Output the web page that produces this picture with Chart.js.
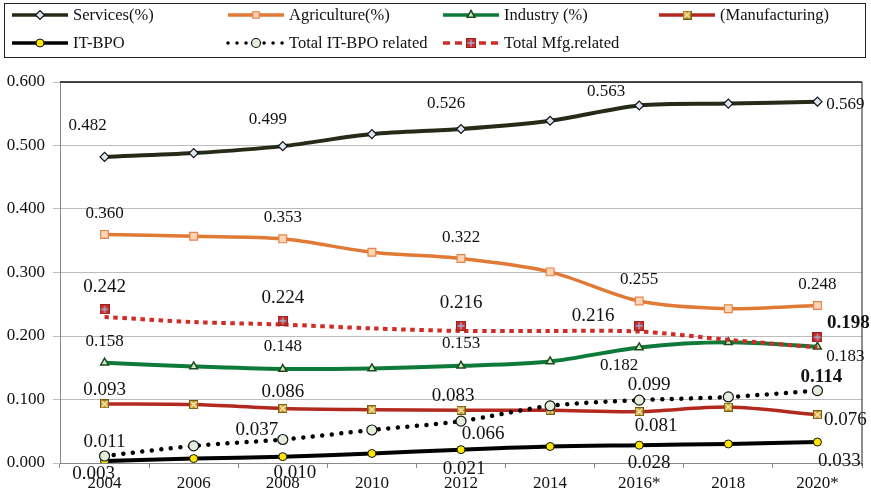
<!DOCTYPE html>
<html>
<head>
<meta charset="utf-8">
<script src="https://cdn.jsdelivr.net/npm/chart.js@4.4.1/dist/chart.umd.min.js"></script>
<style>
  html, body { margin: 0; padding: 0; background: #fff; }
</style>
</head>
<body>
<canvas id="chart" width="871" height="492"></canvas>
<script>
// --- data ---
const years = ['2004', '2006', '2008', '2010', '2012', '2014', '2016*', '2018', '2020*'];
const services       = [0.482, 0.488, 0.499, 0.518, 0.526, 0.539, 0.563, 0.566, 0.569];
const agriculture    = [0.360, 0.357, 0.353, 0.332, 0.322, 0.301, 0.255, 0.243, 0.248];
const industry       = [0.158, 0.152, 0.148, 0.149, 0.153, 0.160, 0.182, 0.190, 0.183];
const manufacturing  = [0.093, 0.092, 0.086, 0.084, 0.083, 0.083, 0.081, 0.088, 0.076];
const itBpo          = [0.003, 0.007, 0.010, 0.015, 0.021, 0.026, 0.028, 0.030, 0.033];
const itBpoRelated   = [0.011, 0.027, 0.037, 0.052, 0.066, 0.090, 0.099, 0.104, 0.114];
const mfgRelated     = [0.242, null, 0.224, null, 0.216, null, 0.216, null, 0.198];
const mfgRelatedLine = [0.230, 0.222, 0.218, 0.212, 0.208, 0.208, 0.207, 0.194, 0.182];
const yTicks = [0, 0.1, 0.2, 0.3, 0.4, 0.5, 0.6];
const labelled = [0, 2, 4, 6, 8];

const SERIF = '"Liberation Serif", "Times New Roman", serif';

// value label placement: [dx, dy] from the point, per labelled year
const labelStyle = {
  services:      { size: 17, at: [[-17, -31], [-15, -27], [-15, -25], [-33, -14], [28, 3]] },
  agriculture:   { size: 17, at: [[0, -21], [0, -21], [0, -21], [0, -22], [0, -21]] },
  industry:      { size: 17, at: [[0, -21], [0, -22], [0, -22], [-20, 18], [28, 10]] },
  manufacturing: { size: 19, at: [[0, -14], [0, -16], [-8, -14], [17, 14], [28, 5]] },
  itBpo:         { size: 19, at: [[-11, 13], [12, 16], [3, 19], [10, 18], [22, 19]] },
  itBpoRelated:  { size: 19, at: [[0, -14], [-26, -9], [22, 13], [10, -15], [4, -14]], bold: [8] },
  mfgRelated:    { size: 19, at: [[0, -22], [0, -23], [0, -23], [-46, -10], [31, -14]], bold: [8] }
};

// small square markers with a cross drawn inside
function boxMarker(size, fill, edge, mark, plus) {
  const c = document.createElement('canvas');
  c.width = c.height = size;
  const g = c.getContext('2d');
  g.fillStyle = fill;
  g.fillRect(0, 0, size, size);
  g.strokeStyle = edge;
  g.lineWidth = 1;
  g.strokeRect(0.5, 0.5, size - 1, size - 1);
  g.strokeStyle = mark;
  g.lineWidth = 1.3;
  g.beginPath();
  if (plus) {
    g.moveTo(size / 2, 1.5); g.lineTo(size / 2, size - 1.5);
    g.moveTo(1.5, size / 2); g.lineTo(size - 1.5, size / 2);
  } else {
    g.moveTo(1.5, 1.5); g.lineTo(size - 1.5, size - 1.5);
    g.moveTo(size - 1.5, 1.5); g.lineTo(1.5, size - 1.5);
  }
  g.stroke();
  return c;
}
const mfgMark = boxMarker(9, '#c9a232', '#7a5a10', '#f7ecb8', false);
const mfgRelMark = boxMarker(10, '#c8302a', '#a02020', '#9fb4e2', true);

const datasets = [
  { key: 'services', label: 'Services(%)', data: services, borderColor: '#262b17', borderWidth: 4,
    pointStyle: 'rectRot', pointRadius: 4.5, pointBackgroundColor: '#dce6f2', pointBorderColor: '#111', pointBorderWidth: 1.2 },
  { key: 'agriculture', label: 'Agriculture(%)', data: agriculture, borderColor: '#e07a35', borderWidth: 3.5,
    pointStyle: 'rect', pointRadius: 5.5, pointBackgroundColor: '#fbd5b6', pointBorderColor: '#e8834a', pointBorderWidth: 1.2 },
  { key: 'industry', label: 'Industry (%)', data: industry, borderColor: '#0e7a3a', borderWidth: 4,
    pointStyle: 'triangle', pointRadius: 4.5, pointBackgroundColor: '#d6e6c4', pointBorderColor: '#1c4a1c', pointBorderWidth: 1.5 },
  { key: 'manufacturing', label: '(Manufacturing)', data: manufacturing, borderColor: '#b2291f', borderWidth: 3.5,
    pointStyle: mfgMark, pointBackgroundColor: '#c9a232', pointBorderColor: '#7a5a10' },
  { key: 'itBpo', label: 'IT-BPO', data: itBpo, borderColor: '#000', borderWidth: 4,
    pointStyle: 'circle', pointRadius: 4, pointBackgroundColor: '#ffe600', pointBorderColor: '#111', pointBorderWidth: 1 },
  { key: 'itBpoRelated', label: 'Total IT-BPO related', data: itBpoRelated, borderColor: '#000', borderWidth: 4.5,
    borderDash: [0.01, 9.5], borderCapStyle: 'round',
    pointStyle: 'circle', pointRadius: 5, pointBackgroundColor: '#e3efda', pointBorderColor: '#111', pointBorderWidth: 1.2 },
  { key: 'mfgRelatedLine', label: 'Total Mfg.related line', data: mfgRelatedLine, borderColor: '#d02c26', borderWidth: 4,
    borderDash: [4.5, 4.5], pointRadius: 0 },
  { key: 'mfgRelated', label: 'Total Mfg.related', data: mfgRelated, showLine: false,
    borderColor: '#d02c26', pointStyle: mfgRelMark, pointBackgroundColor: '#c8302a' }
];
datasets.forEach((d, i) => {
  d.order = datasets.length - i;   // later series sit on top
  d.tension = 0.3;
  d.fill = false;
  d.spanGaps = false;
  d.pointHoverRadius = d.pointRadius;
});

// legend layout: [dataset key, line key, column x, row y]
const legendItems = [
  ['services', 'services', 12, 15],
  ['agriculture', 'agriculture', 228, 15],
  ['industry', 'industry', 443, 15],
  ['manufacturing', 'manufacturing', 659, 15],
  ['itBpo', 'itBpo', 12, 43],
  ['itBpoRelated', 'itBpoRelated', 228, 43],
  ['mfgRelated', 'mfgRelatedLine', 443, 43]
];

const byKey = k => datasets.find(d => d.key === k);

const boxLegend = {
  id: 'boxLegend',
  afterDraw(chart) {
    const ctx = chart.ctx;
    ctx.save();
    ctx.strokeStyle = '#222';
    ctx.lineWidth = 1;
    ctx.strokeRect(4.5, 3.5, 861, 54);
    legendItems.forEach(([k, lk, x, y]) => {
      const d = byKey(k), ld = byKey(lk);
      ctx.save();
      ctx.strokeStyle = ld.borderColor;
      ctx.lineWidth = Math.min(ld.borderWidth, 3.5);
      if (ld.borderDash) {
        ctx.setLineDash(ld.key === 'itBpoRelated' ? [0.01, 9] : [7, 5]);
        ctx.lineCap = ld.borderCapStyle || 'butt';
      }
      ctx.beginPath();
      ctx.moveTo(x, y);
      ctx.lineTo(x + 56, y);
      ctx.stroke();
      ctx.restore();
      ctx.save();
      ctx.fillStyle = d.pointBackgroundColor;
      ctx.strokeStyle = d.pointBorderColor;
      ctx.lineWidth = d.pointBorderWidth || 1;
      const r = typeof d.pointStyle === 'string' ? Math.min(d.pointRadius, 4.5) : 0;
      Chart.helpers.drawPoint(ctx, { pointStyle: d.pointStyle, radius: r, rotation: 0, borderWidth: d.pointBorderWidth || 0 }, x + 28, y);
      ctx.restore();
      ctx.fillStyle = '#111';
      ctx.font = '16.5px ' + SERIF;
      ctx.textBaseline = 'middle';
      ctx.textAlign = 'left';
      ctx.fillText(d.label, x + 61, y + 1);
    });
    ctx.restore();
  }
};

// plot frame on top and right
const plotFrame = {
  id: 'plotFrame',
  beforeDatasetsDraw(chart) {
    const { ctx, chartArea: a } = chart;
    ctx.save();
    ctx.strokeStyle = '#111';
    ctx.lineWidth = 1.5;
    ctx.beginPath();
    ctx.moveTo(a.left, a.top);
    ctx.lineTo(a.right, a.top);
    ctx.stroke();
    ctx.strokeStyle = '#444';
    ctx.lineWidth = 1.2;
    ctx.beginPath();
    ctx.moveTo(a.right, a.top);
    ctx.lineTo(a.right, a.bottom + 3);
    ctx.stroke();
    ctx.restore();
  }
};

const valueLabels = {
  id: 'valueLabels',
  afterDatasetsDraw(chart) {
    const ctx = chart.ctx;
    ctx.save();
    ctx.fillStyle = '#111';
    ctx.textAlign = 'center';
    ctx.textBaseline = 'middle';
    chart.data.datasets.forEach((d, di) => {
      const st = labelStyle[d.key];
      if (!st) return;
      const meta = chart.getDatasetMeta(di);
      labelled.forEach((idx, n) => {
        const v = d.data[idx];
        const pt = meta.data[idx];
        if (v == null || !pt) return;
        const bold = st.bold && st.bold.includes(idx);
        ctx.font = (bold ? 'bold ' : '') + st.size + 'px ' + SERIF;
        ctx.fillText(v.toFixed(3), pt.x + st.at[n][0], pt.y + st.at[n][1]);
      });
    });
    ctx.restore();
  }
};

new Chart(document.getElementById('chart'), {
  type: 'line',
  data: { labels: years, datasets },
  options: {
    responsive: false,
    animation: false,
    layout: { padding: { top: 82, right: 9, left: 0, bottom: 0 } },
    plugins: { legend: { display: false }, tooltip: { enabled: false } },
    scales: {
      x: {
        offset: true,
        grid: { offset: true, drawOnChartArea: false, tickLength: 5, color: '#888' },
        border: { color: '#888', width: 1 },
        ticks: { color: '#111', font: { family: SERIF, size: 17 }, padding: 5, maxRotation: 0 },
        afterFit: s => { s.height = 29; }
      },
      y: {
        min: 0,
        max: 0.6,
        afterBuildTicks: s => { s.ticks = yTicks.map(v => ({ value: v })); },
        grid: { color: '#bcbcbc', lineWidth: 1, tickLength: 7, drawTicks: true },
        border: { color: '#888', width: 1 },
        ticks: { color: '#111', font: { family: SERIF, size: 17 }, padding: 8,
                 callback: v => Number(v).toFixed(3) },
        afterFit: s => { s.width = 60; }
      }
    }
  },
  plugins: [plotFrame, valueLabels, boxLegend]
});
</script>
</body>
</html>
